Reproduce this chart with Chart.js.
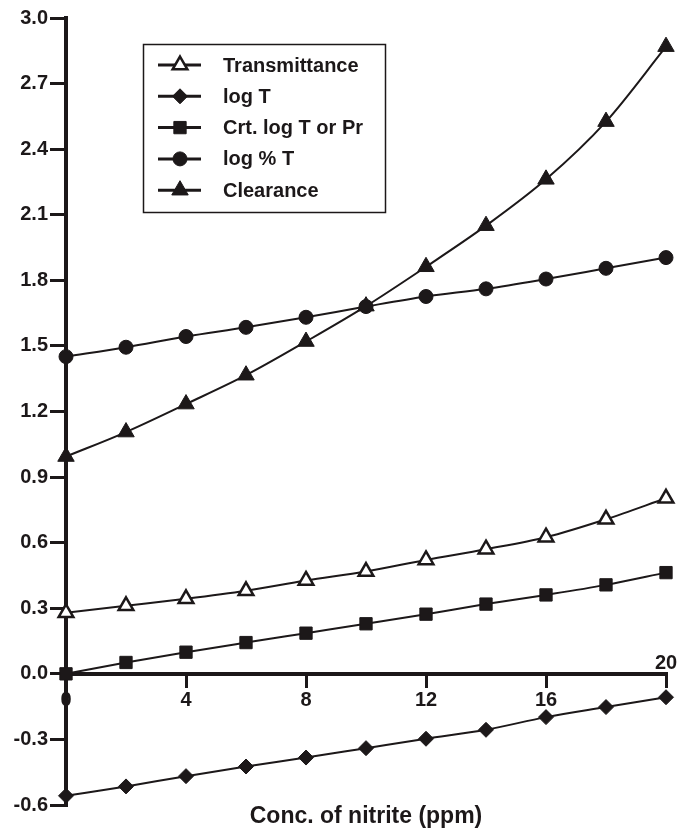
<!DOCTYPE html>
<html>
<head>
<meta charset="utf-8">
<script src="https://cdn.jsdelivr.net/npm/chart.js@4"></script>
<style>
  body { margin: 0; background: #fff; }
  #wrap { width: 677px; height: 830px; }
</style>
</head>
<body>
<div id="wrap"><canvas id="chart-nitrite" width="677" height="830"></canvas></div>
<script>
// values
var conc = [0, 2, 4, 6, 8, 10, 12, 14, 16, 18, 20];
var transmittance = [0.279, 0.311, 0.343, 0.380, 0.427, 0.468, 0.521, 0.570, 0.625, 0.707, 0.803];
var logT = [-0.558, -0.515, -0.468, -0.424, -0.383, -0.340, -0.297, -0.256, -0.198, -0.152, -0.107];
var crtLogT = [0, 0.052, 0.099, 0.143, 0.186, 0.229, 0.273, 0.319, 0.361, 0.407, 0.463];
var logPercentT = [1.451, 1.494, 1.543, 1.585, 1.631, 1.680, 1.726, 1.761, 1.806, 1.855, 1.904];
var clearance = [0.994, 1.106, 1.234, 1.366, 1.520, 1.682, 1.862, 2.050, 2.262, 2.526, 2.869];

var xTicks = [0, 4, 8, 12, 16, 20];
var yTicks = [-0.6, -0.3, 0, 0.3, 0.6, 0.9, 1.2, 1.5, 1.8, 2.1, 2.4, 2.7, 3.0];
var xTitle = 'Conc. of nitrite (ppm)';

var ink = '#1c1819';
var fontFamily = '"Liberation Sans", Arial, sans-serif';

function pts(values) {
  return values.map(function (v, i) { return { x: conc[i], y: v }; });
}

function series(label, values, style, radius, fill, bw) {
  return {
    label: label,
    data: pts(values),
    borderColor: ink,
    borderWidth: 2,
    cubicInterpolationMode: 'monotone',
    pointStyle: style,
    pointRadius: radius,
    pointBackgroundColor: fill,
    pointBorderColor: ink,
    pointBorderWidth: bw,
    clip: false
  };
}

// legend in a framed box, line sample with the marker in the middle
var boxLegend = {
  id: 'boxLegend',
  afterDatasetsDraw: function (chart) {
    var c = chart.ctx;
    c.save();
    c.fillStyle = '#fff';
    c.fillRect(143, 44, 243, 169);
    c.strokeStyle = ink;
    c.lineWidth = 1.5;
    c.strokeRect(143.5, 44.5, 242, 168);
    chart.data.datasets.forEach(function (ds, i) {
      var y = 65 + i * 31.3;
      c.strokeStyle = ink;
      c.lineWidth = 3;
      c.beginPath();
      c.moveTo(158, y);
      c.lineTo(201, y);
      c.stroke();
      c.fillStyle = ds.pointBackgroundColor;
      c.lineWidth = ds.pointBorderWidth;
      Chart.helpers.drawPoint(c, {
        pointStyle: ds.pointStyle,
        radius: ds.pointRadius,
        borderWidth: ds.pointBorderWidth,
        rotation: 0
      }, 180, y);
      c.fillStyle = ink;
      c.font = 'bold 20px ' + fontFamily;
      c.textAlign = 'left';
      c.textBaseline = 'middle';
      c.fillText(ds.label, 223, y + 1);
    });
    c.restore();
  }
};

// the "20" label sits above the x axis in the original
var topTwenty = {
  id: 'topTwenty',
  afterDraw: function (chart) {
    var c = chart.ctx;
    var xs = chart.scales.x, ys = chart.scales.y;
    c.save();
    c.fillStyle = ink;
    c.font = 'bold 20px ' + fontFamily;
    c.textAlign = 'center';
    c.textBaseline = 'alphabetic';
    c.fillText('20', xs.getPixelForValue(20), ys.getPixelForValue(0) - 5);
    c.restore();
  }
};

var ctx = document.getElementById('chart-nitrite').getContext('2d');
var chart = new Chart(ctx, {
  type: 'line',
  data: {
    datasets: [
      series('Transmittance', transmittance, 'triangle', 8.5, '#fff', 2.5),
      series('log T', logT, 'rectRot', 7.5, ink, 1),
      series('Crt. log T or Pr', crtLogT, 'rect', 8.7, ink, 1),
      series('log % T', logPercentT, 'circle', 7, ink, 1),
      series('Clearance', clearance, 'triangle', 9.5, ink, 1)
    ]
  },
  options: {
    responsive: false,
    animation: false,
    layout: { padding: { top: 18, right: 11, left: 0, bottom: 0 } },
    plugins: {
      legend: { display: false },
      tooltip: { enabled: false }
    },
    scales: {
      x: {
        type: 'linear',
        min: 0,
        max: 20,
        position: { y: 0 },
        afterBuildTicks: function (s) { s.ticks = xTicks.map(function (v) { return { value: v }; }); },
        ticks: {
          color: ink,
          padding: 3,
          maxRotation: 0,
          font: { family: fontFamily, size: 20, weight: 'bold' },
          callback: function (v) { return v === 20 ? '' : v; }
        },
        grid: { drawOnChartArea: false, drawTicks: true, tickLength: 12, lineWidth: 3, color: ink },
        border: { display: true, width: 4, color: ink }
      },
      xt: {
        type: 'linear',
        position: 'bottom',
        min: 0,
        max: 20,
        grid: { display: false },
        border: { display: false },
        ticks: { display: false },
        title: {
          display: true,
          text: xTitle,
          color: ink,
          padding: 0,
          font: { family: fontFamily, size: 23, weight: 'bold' }
        },
        afterFit: function (s) { s.height = 25; }
      },
      y: {
        min: -0.6,
        max: 3.0,
        afterBuildTicks: function (s) { s.ticks = yTicks.map(function (v) { return { value: v }; }); },
        ticks: {
          color: ink,
          padding: 2,
          font: { family: fontFamily, size: 20, weight: 'bold' },
          callback: function (v) { return v.toFixed(1); }
        },
        grid: { drawOnChartArea: false, drawTicks: true, tickLength: 16, lineWidth: 3, color: ink },
        border: { display: true, width: 4, color: ink },
        afterFit: function (s) { s.width = 66; }
      }
    }
  },
  plugins: [boxLegend, topTwenty]
});
</script>
</body>
</html>
